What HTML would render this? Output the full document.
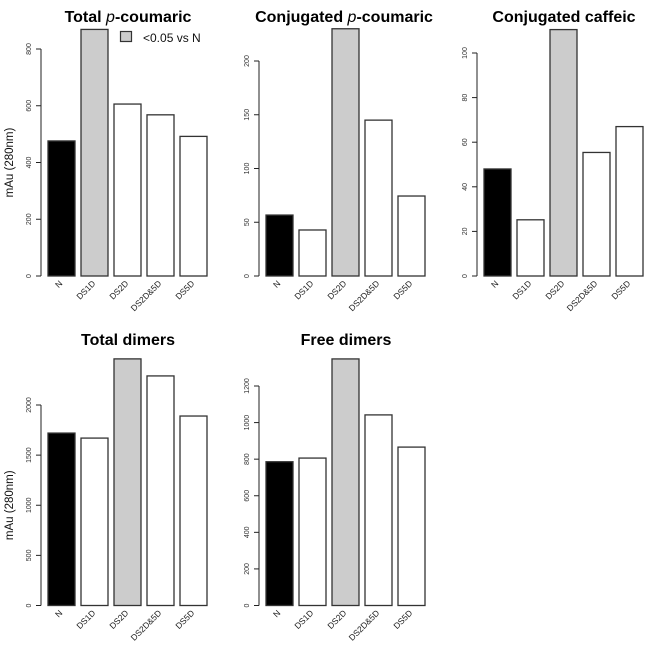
<!DOCTYPE html>
<html><head><meta charset="utf-8"><style>
body{margin:0;background:#fff;}
svg{display:block;font-family:"Liberation Sans",sans-serif;}
</style></head><body>
<svg id="c" width="645" height="645" viewBox="0 0 645 645"></svg>
<script>
const categories = ["N","DS1D","DS2D","DS2D&5D","DS5D"];
const valuesTotalCoumaric = [476, 869, 606, 568, 492];
const valuesConjCoumaric = [56.7, 42.8, 230, 145, 74.4];
const valuesConjCaffeic = [48, 25.2, 110.5, 55.4, 67];
const valuesTotalDimers = [1720, 1670, 2460, 2290, 1890];
const valuesFreeDimers = [786, 806, 1348, 1042, 866];
const sigTotalCoumaric = [false, true, false, false, false];
const sigConjCoumaric = [false, false, true, false, false];
const sigConjCaffeic = [false, false, true, false, false];
const sigTotalDimers = [false, false, true, false, false];
const sigFreeDimers = [false, false, true, false, false];
const ticksTotalCoumaric = [0,200,400,600,800];
const ticksConjCoumaric = [0,50,100,150,200];
const ticksConjCaffeic = [0,20,40,60,80,100];
const ticksTotalDimers = [0,500,1000,1500,2000];
const ticksFreeDimers = [0,200,400,600,800,1000,1200];

const NS="http://www.w3.org/2000/svg";
const svg=document.getElementById('c');
function mk(tag,attrs,parent){const e=document.createElementNS(NS,tag);for(const k in attrs)e.setAttribute(k,attrs[k]);(parent||svg).appendChild(e);return e;}

const panels=[
 {key:'total-coumaric',title:['Total ','p','-coumaric'],vals:valuesTotalCoumaric,sig:sigTotalCoumaric,ticks:ticksTotalCoumaric,ax:41,y0:276,tickTop:49,ylab:true,cx:128,ty:22},
 {key:'conj-coumaric',title:['Conjugated ','p','-coumaric'],vals:valuesConjCoumaric,sig:sigConjCoumaric,ticks:ticksConjCoumaric,ax:259,y0:276,tickTop:61,ylab:false,cx:344,ty:22},
 {key:'conj-caffeic',title:['Conjugated caffeic'],vals:valuesConjCaffeic,sig:sigConjCaffeic,ticks:ticksConjCaffeic,ax:477,y0:276,tickTop:53,ylab:false,cx:564,ty:22},
 {key:'total-dimers',title:['Total dimers'],vals:valuesTotalDimers,sig:sigTotalDimers,ticks:ticksTotalDimers,ax:41,y0:605.5,tickTop:405,ylab:true,cx:128,ty:345},
 {key:'free-dimers',title:['Free dimers'],vals:valuesFreeDimers,sig:sigFreeDimers,ticks:ticksFreeDimers,ax:259,y0:605.5,tickTop:386,ylab:false,cx:346,ty:345}
];

panels.forEach(p=>{
  const g=mk('g',{});
  
  
  const tmax=p.ticks[p.ticks.length-1];
  const yS=v=>p.y0-(v/tmax)*(p.y0-p.tickTop);
  const xS=i=>p.ax+7+i*33;
  // title
  const t=mk('text',{x:p.cx,y:p.ty,'text-anchor':'middle','font-size':'16','font-weight':'bold'},g);
  
  
  p.title.forEach((s,i)=>{const ts=mk('tspan',{},t);ts.textContent=s;if(s==='p'){ts.setAttribute('font-style','italic');ts.setAttribute('font-weight','normal');}});
  // bars
  p.vals.forEach((v,i)=>{
    const fill=i===0?'#000':(p.sig[i]?'#cccccc':'#fff');
    const r=mk('rect',{x:xS(i),y:yS(v),width:27,height:p.y0-yS(v),fill:fill,stroke:'#333','stroke-width':1.3},g);
    
    
    const lx=xS(i)+15, ly=p.y0+8;
    const l=mk('text',{x:lx,y:ly,'text-anchor':'end','font-size':'8.5',fill:'#222',transform:`rotate(-45 ${lx} ${ly})`},g);
    l.textContent=categories[i];
    
    
  });
  // y axis
  const a=mk('line',{x1:p.ax,x2:p.ax,y1:p.y0,y2:yS(tmax),stroke:'#222','stroke-width':1},g);
  
  
  p.ticks.forEach(tv=>{
    const y=yS(tv);
    mk('line',{x1:p.ax-5,x2:p.ax,y1:y,y2:y,stroke:'#222','stroke-width':1},g);
    const tl=mk('text',{x:p.ax-10,y:y,'text-anchor':'middle','font-size':'7',fill:'#333',transform:`rotate(-90 ${p.ax-10} ${y})`},g);
    tl.textContent=tv;
    
    
  });
  if(p.ylab){
    const cy=(p.y0+p.tickTop)/2;
    const yl=mk('text',{x:13,y:cy,'text-anchor':'middle','font-size':'11.5',fill:'#111',transform:`rotate(-90 13 ${cy})`},g);
    yl.textContent='mAu (280nm)';
    
    
  }
});
// legend
const lg=mk('g',{});


const lb=mk('rect',{x:120.5,y:31.5,width:11,height:10,fill:'#cccccc',stroke:'#333','stroke-width':1.2},lg);


const lt=mk('text',{x:143,y:42,'font-size':'12',fill:'#111'},lg);
lt.textContent='<0.05 vs N';


</script>
</body></html>
